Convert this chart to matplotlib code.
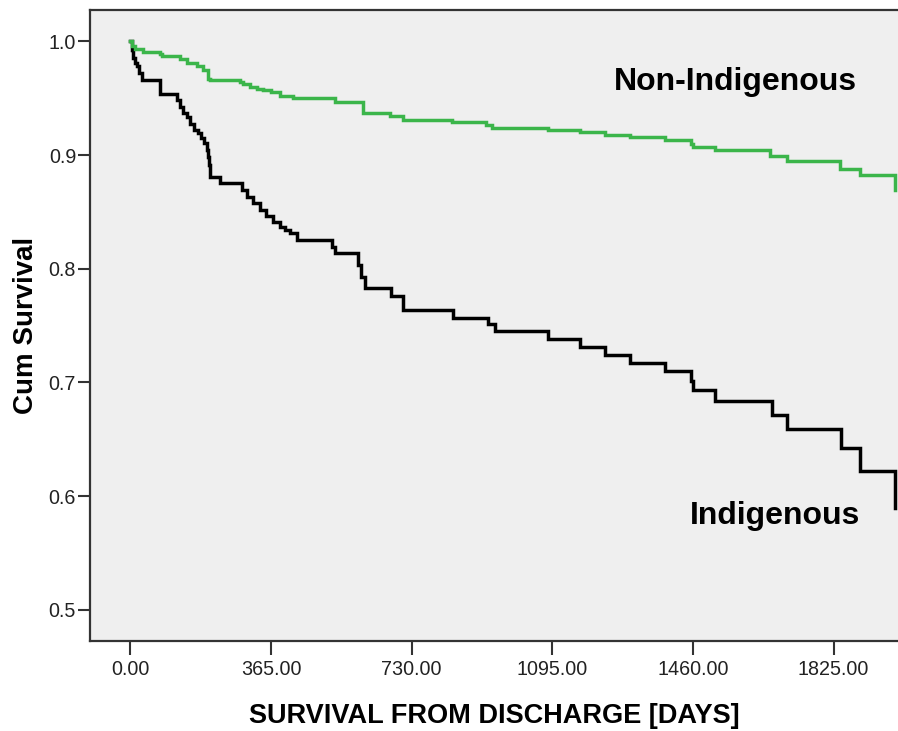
import matplotlib
matplotlib.use("Agg")
import matplotlib.pyplot as plt

# Kaplan-Meier steps (days, cumulative survival)
times_ind = [0, 4, 7, 12, 16, 22, 29, 77, 121, 128, 136, 146, 154, 165, 176, 183, 191,
             199, 202, 204, 206, 232, 289, 302, 319, 336, 353, 370, 388, 401, 414, 431,
             522, 531, 591, 598, 609, 675, 708, 836, 929, 946, 1084, 1167, 1232, 1296,
             1387, 1456, 1460, 1517, 1664, 1703, 1843, 1893, 1984]
surv_ind = [1.0, 0.992, 0.985, 0.981, 0.978, 0.972, 0.966, 0.954, 0.948, 0.942, 0.937,
            0.933, 0.927, 0.922, 0.919, 0.915, 0.911, 0.904, 0.898, 0.891, 0.881, 0.875,
            0.869, 0.863, 0.858, 0.852, 0.846, 0.841, 0.837, 0.834, 0.831, 0.825, 0.819,
            0.814, 0.803, 0.793, 0.783, 0.776, 0.764, 0.757, 0.751, 0.745, 0.738, 0.731,
            0.724, 0.717, 0.710, 0.701, 0.693, 0.684, 0.671, 0.659, 0.642, 0.622, 0.590]

times_non = [0, 3, 12, 33, 77, 81, 128, 146, 172, 189, 202, 206, 284, 293, 310, 328, 345,
             366, 388, 423, 531, 604, 673, 708, 834, 924, 938, 1084, 1167, 1232, 1296,
             1387, 1456, 1460, 1517, 1660, 1703, 1841, 1893, 1984]
surv_non = [1.0, 0.996, 0.993, 0.991, 0.989, 0.987, 0.984, 0.981, 0.978, 0.975, 0.967,
            0.966, 0.964, 0.962, 0.960, 0.958, 0.957, 0.955, 0.952, 0.950, 0.947, 0.937,
            0.934, 0.931, 0.929, 0.926, 0.924, 0.922, 0.920, 0.918, 0.916, 0.913, 0.910,
            0.907, 0.904, 0.899, 0.895, 0.888, 0.882, 0.869]

x_ticks = [0, 365, 730, 1095, 1460, 1825]
x_ticklabels = ["0.00", "365.00", "730.00", "1095.00", "1460.00", "1825.00"]
y_ticks = [0.5, 0.6, 0.7, 0.8, 0.9, 1.0]
y_ticklabels = ["0.5", "0.6", "0.7", "0.8", "0.9", "1.0"]

plt.rcParams['font.family'] = ['Liberation Sans', 'DejaVu Sans']

W, H = 898, 731
fig = plt.figure(figsize=(W / 100, H / 100), dpi=100)
ax = fig.add_axes([90 / W, 1 - 641 / H, (898 - 90) / W, (641 - 10) / H])
ax.set_facecolor('#efefef')

ax.step(times_ind, surv_ind, where='post', color='#000000', lw=2.5, solid_joinstyle='miter')
ax.step(times_non, surv_non, where='post', color='#3bb54a', lw=2.5, solid_joinstyle='miter')

ax.set_xlim(-105, 1992)
ax.set_ylim(0.4727, 1.0275)

ax.set_xticks(x_ticks)
ax.set_xticklabels(x_ticklabels)
ax.set_yticks(y_ticks)
ax.set_yticklabels(y_ticklabels)

ax.tick_params(axis='both', direction='out', colors='#333333', labelcolor='#222222',
               labelsize=14.2, width=1.5)
ax.tick_params(axis='y', length=9, pad=1)
ax.tick_params(axis='x', length=10, pad=4)

for side in ['left', 'bottom', 'top']:
    ax.spines[side].set_color('#333333')
    ax.spines[side].set_linewidth(1.6)
ax.spines['right'].set_visible(False)

ax.set_xlabel('SURVIVAL FROM DISCHARGE [DAYS]', fontsize=19.5, fontweight='bold', labelpad=17)
ax.set_ylabel('Cum Survival', fontsize=20, fontweight='bold', labelpad=7)

ax.text(1255, 0.957, 'Non-Indigenous', fontsize=23, fontweight='bold', ha='left', va='baseline')
ax.text(1452, 0.576, 'Indigenous', fontsize=23, fontweight='bold', ha='left', va='baseline')

fig.savefig('out.png', dpi=100)
